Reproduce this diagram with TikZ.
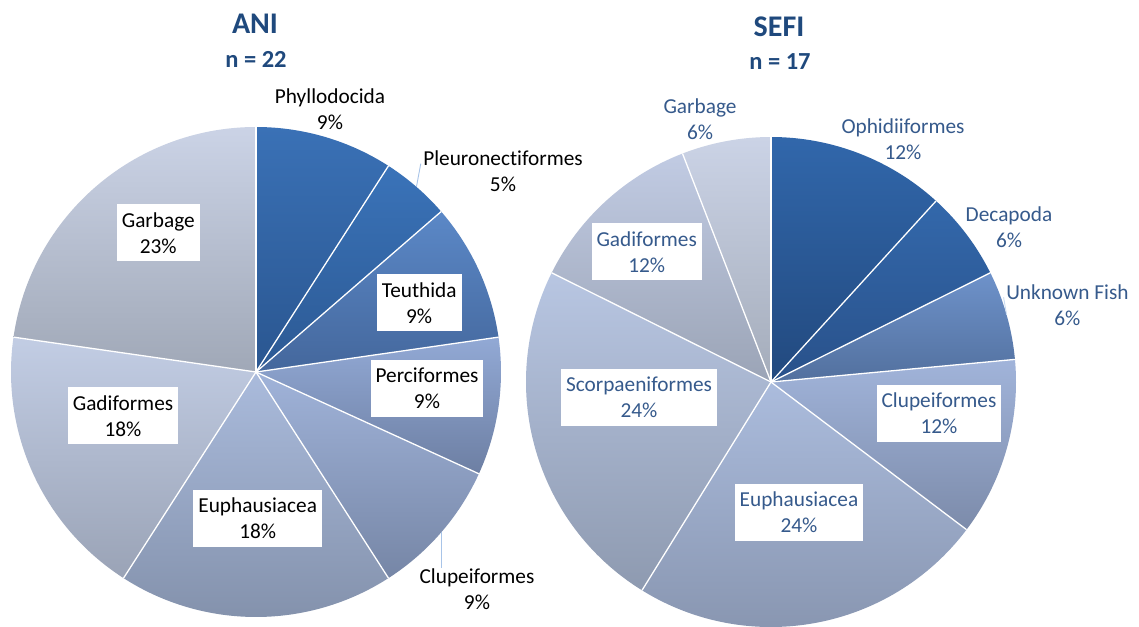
\documentclass[tikz,border=0pt]{standalone}
\usepackage{fontspec}
\setmainfont{Carlito}[RawFeature={-liga;-clig;-dlig}]
\usetikzlibrary{calc}
\definecolor{ttlc}{HTML}{1F497D}
\definecolor{rtxt}{HTML}{365A8C}
\definecolor{leadc}{HTML}{A8C4E8}
% left pie
\definecolor{La1}{HTML}{3A71B6}\definecolor{Lb1}{HTML}{2A5690}
\definecolor{La2}{HTML}{3A73B9}\definecolor{Lb2}{HTML}{2C5993}
\definecolor{La3}{HTML}{5B88C7}\definecolor{Lb3}{HTML}{44679C}
\definecolor{La4}{HTML}{92A9D5}\definecolor{Lb4}{HTML}{6D7FA3}
\definecolor{La5}{HTML}{A0B3D9}\definecolor{Lb5}{HTML}{7686A6}
\definecolor{La6}{HTML}{AABBDC}\definecolor{Lb6}{HTML}{8290AA}
\definecolor{La7}{HTML}{C2CDE4}\definecolor{Lb7}{HTML}{9AA3B6}
\definecolor{La8}{HTML}{CBD3E6}\definecolor{Lb8}{HTML}{A0A8B7}
% right pie
\definecolor{Ra1}{HTML}{3167AB}\definecolor{Rb1}{HTML}{22497E}
\definecolor{Ra2}{HTML}{3368AB}\definecolor{Rb2}{HTML}{29518A}
\definecolor{Ra3}{HTML}{6E92CA}\definecolor{Rb3}{HTML}{52709E}
\definecolor{Ra4}{HTML}{A1B4DA}\definecolor{Rb4}{HTML}{7C8BAA}
\definecolor{Ra5}{HTML}{ABBCDD}\definecolor{Rb5}{HTML}{8592AC}
\definecolor{Ra6}{HTML}{B8C6E2}\definecolor{Rb6}{HTML}{8E9AB0}
\definecolor{Ra7}{HTML}{C1CBE3}\definecolor{Rb7}{HTML}{9BA4B6}
\definecolor{Ra8}{HTML}{CBD3E6}\definecolor{Rb8}{HTML}{A4ACBA}
\newcommand\pieslice[5]{\shade[top color=#4, bottom color=#5] (#1) -- ++(#2:245) arc[start angle=#2, end angle=#3, radius=245] -- cycle;}
\newcommand\piesep[2]{\draw[sep] (#1) -- ++(#2:245);}
\begin{document}
\begin{tikzpicture}[x=1pt,y=1pt,
  lbl/.style={font=\fontsize{21.3}{26}\selectfont, align=center, inner sep=0pt},
  lblL/.style={lbl, text=black},
  lblR/.style={lbl, text=rtxt},
  boxL/.style={lblL, fill=white, inner xsep=5pt, minimum height=57pt},
  boxR/.style={lblR, fill=white, inner xsep=5pt, minimum height=57pt},
  sep/.style={white, line width=1.3pt},
  leader/.style={draw=leadc, line width=0.9pt},
  ttl/.style={font=\fontsize{30}{36}\selectfont\bfseries, text=ttlc, anchor=base},
  subttl/.style={font=\fontsize{24.5}{30}\selectfont\bfseries, text=ttlc, anchor=base}]
\useasboundingbox[fill=white] (0,0) rectangle (1139,-626);

\coordinate (A) at (256,-372);
\coordinate (B) at (771,-382);

% ---- left pie (ANI)
\pieslice{A}{90}{57.273}{La1}{Lb1}
\pieslice{A}{57.273}{40.909}{La2}{Lb2}
\pieslice{A}{40.909}{8.182}{La3}{Lb3}
\pieslice{A}{8.182}{-24.545}{La4}{Lb4}
\pieslice{A}{-24.545}{-57.273}{La5}{Lb5}
\pieslice{A}{-57.273}{-122.727}{La6}{Lb6}
\pieslice{A}{-122.727}{-188.182}{La7}{Lb7}
\pieslice{A}{-188.182}{-270}{La8}{Lb8}
\foreach \a in {90,57.273,40.909,8.182,-24.545,-57.273,-122.727,-188.182}{\piesep{A}{\a}}

% ---- right pie (SEFI)
\pieslice{B}{90}{47.647}{Ra1}{Rb1}
\pieslice{B}{47.647}{26.471}{Ra2}{Rb2}
\pieslice{B}{26.471}{5.294}{Ra3}{Rb3}
\pieslice{B}{5.294}{-37.059}{Ra4}{Rb4}
\pieslice{B}{-37.059}{-121.765}{Ra5}{Rb5}
\pieslice{B}{-121.765}{-206.471}{Ra6}{Rb6}
\pieslice{B}{-206.471}{-248.824}{Ra7}{Rb7}
\pieslice{B}{-248.824}{-270}{Ra8}{Rb8}
\foreach \a in {90,47.647,26.471,5.294,-37.059,-121.765,-206.471,-248.824}{\piesep{B}{\a}}

% ---- titles
\node[ttl] (aniT) at (255,-33.3) {ANI};
\node[subttl] (aniN) at (256,-67) {n = 22};
\node[ttl] (sefiT) at (779,-36.7) {SEFI};
\node[subttl] (sefiN) at (780,-70) {n = 17};

% ---- left labels
\node[lblL] (phyl) at (330,-108.7) {Phyllodocida\\9\%};
\node[lblL] (pleu) at (503,-171.3) {Pleuronectiformes\\5\%};
\node[boxL] (teut) at (419.2,-302.8) {Teuthida\\9\%};
\node[boxL] (perc) at (427,-388) {Perciformes\\9\%};
\node[lblL] (clupL) at (477,-588.7) {Clupeiformes\\9\%};
\node[boxL] (euphL) at (257.7,-518.5) {Euphausiacea\\18\%};
\node[boxL] (gadiL) at (123,-415.8) {Gadiformes\\18\%};
\node[boxL] (garbL) at (158.3,-232.8) {Garbage\\23\%};

\coordinate (pleuTip) at ($(A)+(49.091:245)$);
\coordinate (clupLTip) at ($(A)+(-40.909:245)$);
\draw[leader] ($(pleu.west)+(-2.3,7.7)$) -- (pleuTip);
\draw[leader] (clupLTip) -- (clupLTip |- clupL.north);

% ---- right labels
\node[lblR] (ophi) at (903,-139) {Ophidiiformes\\12\%};
\node[lblR] (deca) at (1009,-227) {Decapoda\\6\%};
\node[lblR] (unkn) at (1067.4,-305.3) {Unknown Fish\\6\%};
\node[boxR] (clupR) at (939,-413) {Clupeiformes\\12\%};
\node[boxR] (euphR) at (799,-512) {Euphausiacea\\24\%};
\node[boxR] (scor) at (639,-397.5) {Scorpaeniformes\\24\%};
\node[boxR] (gadiR) at (646.7,-251.7) {Gadiformes\\12\%};
\node[lblR] (garbR) at (700,-118.7) {Garbage\\6\%};

\coordinate (unknTip) at ($(B)+(15.882:245)$);
\draw[leader, draw=leadc!60] ($(unkn.west)+(-2.5,8)$) -- (unknTip);
\end{tikzpicture}
\end{document}
